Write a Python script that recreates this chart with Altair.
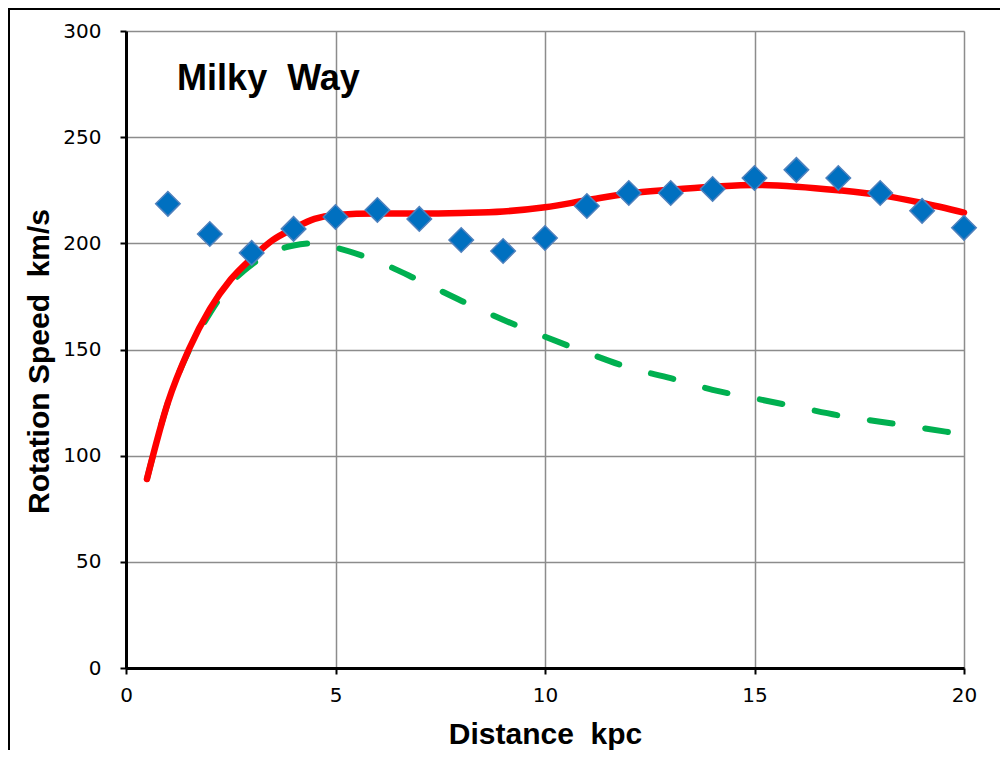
import altair as alt
import pandas as pd

NB = "\u00a0"

# Observed rotation speeds (diamonds)
r_obs = [1, 2, 3, 4, 5, 6, 7, 8, 9, 10, 11, 12, 13, 14, 15, 16, 17, 18, 19, 20]
v_obs = [218.6, 204.4, 195.5, 206.8, 212.4, 215.7, 211.5, 201.6, 196.4, 202.5,
         217.6, 223.7, 223.7, 225.6, 230.8, 234.6, 230.8, 223.7, 215.3, 207.3]

# Model curves
r_fit = [0.5, 1, 1.5, 2, 2.5, 3, 3.5, 4, 4.5, 5,
         6, 7, 8, 9, 10, 11, 12, 13, 14, 15, 16, 17, 18, 19, 20]
v_total = [89, 125, 150, 169, 183, 193, 201.5, 207, 211.5, 213.3,
           214, 214, 214.3, 215, 217, 220.3, 223.5, 225.2, 226.6, 227.5,
           226.7, 225, 222.7, 219, 214.5]
v_disk = [89, 125, 149.5, 167, 181, 190, 196, 199, 200, 198,
          191.5, 182.5, 173, 164, 156, 148.5, 141.5, 136.5, 131, 127,
          123, 119, 116, 113, 110]

x_ticks = [0, 5, 10, 15, 20]
y_ticks = [0, 50, 100, 150, 200, 250, 300]
title_text = "Milky" + NB + NB + "Way"
x_title = "Distance" + NB + NB + "kpc"
y_title = "Rotation Speed" + NB + NB + "km/s"

obs = pd.DataFrame({"r": r_obs, "v": v_obs})
fit = pd.DataFrame({"r": r_fit, "total": v_total, "disk": v_disk})
label_df = pd.DataFrame({"r": [1.22], "v": [272], "t": [title_text]})

W, H = 838, 637

xscale = alt.Scale(domain=[0, 20], nice=False, zero=False)
yscale = alt.Scale(domain=[0, 300], nice=False)

xaxis = alt.Axis(values=x_ticks, title=x_title, format="d", labelFlush=False,
                 domainColor="black", domainWidth=3,
                 tickColor="black", tickWidth=2, tickSize=6,
                 gridColor="#8c8c8c", gridWidth=1.5,
                 labelFont="DejaVu Sans", labelFontSize=20, labelColor="black",
                 labelPadding=11,
                 titleFont="Liberation Sans", titleFontSize=30, titleFontWeight="bold",
                 titleColor="black", titleY=75, titleBaseline="alphabetic")
yaxis = alt.Axis(values=y_ticks, title=y_title, format="d", labelFlush=False,
                 domainColor="black", domainWidth=3,
                 tickColor="black", tickWidth=2, tickSize=6,
                 gridColor="#8c8c8c", gridWidth=1.5,
                 labelFont="DejaVu Sans", labelFontSize=20, labelColor="black",
                 labelPadding=19,
                 titleFont="Liberation Sans", titleFontSize=30, titleFontWeight="bold",
                 titleColor="black", titleX=-78, titleY=330,
                 titleBaseline="alphabetic", titleAngle=270)

base_x = alt.X("r:Q", scale=xscale, axis=xaxis)

disk = alt.Chart(fit).mark_line(
    color="#00B050", strokeWidth=6, strokeCap="round",
    strokeDash=[23, 33], interpolate="monotone"
).encode(x=base_x, y=alt.Y("disk:Q", scale=yscale, axis=yaxis))

total = alt.Chart(fit).mark_line(
    color="#FF0000", strokeWidth=6.5, strokeCap="round", interpolate="monotone"
).encode(x=alt.X("r:Q", scale=xscale), y=alt.Y("total:Q", scale=yscale))

points = alt.Chart(obs).mark_point(
    shape="diamond", filled=True, fill="#0070C0", stroke="#4F81BD",
    strokeWidth=1.5, size=600, opacity=1
).encode(x=alt.X("r:Q", scale=xscale), y=alt.Y("v:Q", scale=yscale))

label = alt.Chart(label_df).mark_text(
    font="Liberation Sans", fontSize=36, fontWeight="bold", color="black",
    align="left", baseline="alphabetic"
).encode(x=alt.X("r:Q", scale=xscale), y=alt.Y("v:Q", scale=yscale), text="t:N")

# outer frame of the chart (decoration)
frame_left = alt.Chart(label_df).mark_rule(color="black", strokeWidth=2).encode(
    x=alt.value(-117), y=alt.value(-22), y2=alt.value(740))
frame_top = alt.Chart(label_df).mark_rule(color="black", strokeWidth=2).encode(
    x=alt.value(-118), x2=alt.value(880), y=alt.value(-22))

chart = alt.layer(disk, total, points, label, frame_left, frame_top).properties(
    width=W, height=H,
    autosize=alt.AutoSizeParams(type="none"),
    padding={"left": 118, "top": 23, "right": 36, "bottom": 82},
).configure_view(stroke="black", strokeWidth=3).configure(background="white")

chart.save("out.html", embed_options={"renderer": "svg", "actions": False})
